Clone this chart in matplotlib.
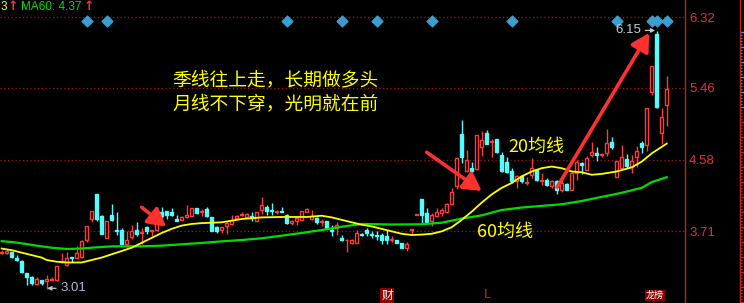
import matplotlib
matplotlib.use('Agg')
import matplotlib.pyplot as plt
import numpy as np
from matplotlib.transforms import blended_transform_factory
from matplotlib.lines import Line2D

plt.rcParams['font.family'] = ['Noto Sans CJK SC', 'DejaVu Sans']

# ---------------- data ----------------
opens = [3.44, 3.44, 3.46, 3.38, 3.35, 3.20, 3.15, 3.07, 3.12, 3.10,
         3.12, 3.12, 3.33, 3.30, 3.40, 3.39, 3.40, 3.60, 3.86, 4.17,
         3.90, 3.63, 3.91, 3.73, 3.73, 3.56, 3.64, 3.73, 3.69, 3.76,
         3.71, 3.73, 3.94, 3.96, 3.94, 3.86, 3.85, 3.89, 3.90, 4.00,
         3.95, 3.98, 3.88, 3.76, 3.73, 3.77, 3.80, 3.87, 3.91, 3.89,
         3.90, 3.83, 3.97, 4.01, 3.97, 3.95, 3.96, 3.91, 3.81, 3.84,
         3.85, 3.95, 3.86, 3.87, 3.82, 3.84, 3.73, 3.75, 3.63, 3.60,
         3.57, 3.57, 3.68, 3.73, 3.68, 3.67, 3.67, 3.65, 3.61, 3.61,
         3.57, 3.51, 3.73, 3.91, 4.11, 3.93, 3.83, 3.90, 3.93, 3.94,
         4.04, 4.26, 4.90, 4.44, 4.48, 4.47, 4.74, 4.91, 4.80, 4.83,
         4.64, 4.56, 4.44, 4.32, 4.39, 4.30, 4.40, 4.46, 4.32, 4.34,
         4.26, 4.32, 4.21, 4.29, 4.22, 4.42, 4.54, 4.46, 4.64, 4.66,
         4.64, 4.66, 4.80, 4.37, 4.48, 4.59, 4.50, 4.62, 4.79, 4.76,
         5.41, 6.12, 4.91, 5.25]
highs = [3.48, 3.49, 3.46, 3.42, 3.36, 3.20, 3.17, 3.15, 3.12, 3.18,
         3.15, 3.29, 3.45, 3.46, 3.40, 3.53, 3.60, 3.78, 3.96, 4.17,
         3.91, 3.84, 4.04, 3.94, 3.75, 3.71, 3.79, 3.82, 3.75, 3.78,
         3.73, 3.94, 4.01, 3.96, 3.99, 3.91, 3.90, 4.03, 4.00, 4.00,
         3.98, 4.01, 3.88, 3.78, 3.76, 3.83, 3.91, 3.91, 3.94, 3.93,
         3.95, 3.95, 4.13, 4.03, 4.06, 3.97, 4.01, 3.92, 3.85, 3.88,
         3.96, 4.00, 3.97, 3.88, 3.86, 3.84, 3.79, 3.82, 3.67, 3.62,
         3.62, 3.73, 3.69, 3.75, 3.72, 3.72, 3.69, 3.73, 3.65, 3.61,
         3.57, 3.58, 3.74, 3.92, 4.11, 4.00, 3.93, 4.00, 3.99, 4.06,
         4.24, 4.62, 5.07, 4.70, 4.55, 4.89, 4.93, 4.95, 4.84, 4.83,
         4.68, 4.62, 4.48, 4.40, 4.40, 4.37, 4.61, 4.47, 4.42, 4.36,
         4.34, 4.34, 4.38, 4.30, 4.43, 4.58, 4.56, 4.63, 4.80, 4.74,
         4.67, 4.96, 4.86, 4.57, 4.76, 4.65, 4.64, 4.75, 4.81, 5.21,
         5.73, 6.15, 5.22, 5.60]
lows = [3.43, 3.43, 3.39, 3.35, 3.20, 3.05, 3.05, 3.06, 3.06, 3.01,
        3.10, 3.11, 3.32, 3.29, 3.33, 3.38, 3.39, 3.58, 3.82, 3.83,
        3.68, 3.63, 3.83, 3.66, 3.56, 3.54, 3.62, 3.65, 3.56, 3.68,
        3.65, 3.72, 3.87, 3.86, 3.90, 3.84, 3.84, 3.87, 3.90, 3.92,
        3.90, 3.89, 3.71, 3.69, 3.69, 3.68, 3.79, 3.85, 3.90, 3.87,
        3.83, 3.83, 3.92, 3.91, 3.91, 3.92, 3.94, 3.80, 3.79, 3.79,
        3.85, 3.94, 3.85, 3.80, 3.78, 3.75, 3.65, 3.67, 3.59, 3.46,
        3.56, 3.57, 3.65, 3.65, 3.63, 3.60, 3.56, 3.56, 3.58, 3.57,
        3.51, 3.47, 3.67, 3.91, 3.81, 3.81, 3.78, 3.89, 3.90, 3.93,
        4.03, 4.23, 4.54, 4.43, 4.43, 4.46, 4.63, 4.78, 4.62, 4.67,
        4.43, 4.42, 4.30, 4.24, 4.30, 4.28, 4.36, 4.32, 4.28, 4.26,
        4.24, 4.17, 4.19, 4.21, 4.21, 4.34, 4.41, 4.46, 4.62, 4.57,
        4.62, 4.63, 4.71, 4.37, 4.46, 4.48, 4.42, 4.50, 4.67, 4.69,
        5.37, 5.22, 4.78, 4.99]
closes = [3.46, 3.47, 3.40, 3.36, 3.21, 3.15, 3.08, 3.13, 3.08, 3.13,
          3.13, 3.29, 3.35, 3.39, 3.38, 3.45, 3.59, 3.78, 3.96, 3.86,
          3.68, 3.84, 3.85, 3.72, 3.56, 3.61, 3.72, 3.68, 3.70, 3.71,
          3.73, 3.93, 3.90, 3.91, 3.91, 3.84, 3.89, 3.91, 3.99, 3.93,
          3.96, 3.90, 3.72, 3.71, 3.76, 3.81, 3.85, 3.90, 3.92, 3.92,
          3.87, 3.94, 4.03, 3.96, 3.96, 3.96, 3.95, 3.81, 3.84, 3.87,
          3.96, 3.98, 3.90, 3.82, 3.83, 3.75, 3.71, 3.79, 3.60, 3.61,
          3.61, 3.69, 3.67, 3.69, 3.66, 3.65, 3.61, 3.61, 3.62, 3.57,
          3.51, 3.55, 3.74, 3.92, 3.91, 3.82, 3.91, 3.94, 3.97, 4.04,
          4.19, 4.61, 4.62, 4.58, 4.45, 4.89, 4.82, 4.78, 4.81, 4.68,
          4.44, 4.43, 4.32, 4.38, 4.32, 4.31, 4.48, 4.34, 4.33, 4.28,
          4.32, 4.21, 4.30, 4.22, 4.42, 4.56, 4.52, 4.61, 4.68, 4.64,
          4.65, 4.79, 4.74, 4.57, 4.62, 4.51, 4.57, 4.69, 4.74, 5.21,
          5.73, 5.23, 5.10, 5.44]

ma20_idx = [0, 2, 4, 6, 8, 9, 11, 13, 16, 18,
            20, 22, 24, 26, 28, 30, 32, 34, 36, 38,
            40, 44, 48, 52, 56, 61, 64, 66, 68, 70,
            72, 74, 76, 78, 80, 82, 84, 86, 88, 90,
            92, 94, 96, 98, 100, 102, 104, 106, 108, 110,
            112, 114, 116, 118, 120, 123, 126, 128, 130, 131, 133]
ma20_val = [3.50, 3.48, 3.45, 3.42, 3.39, 3.36, 3.34, 3.33, 3.33, 3.36,
            3.39, 3.43, 3.47, 3.51, 3.57, 3.63, 3.69, 3.74, 3.78, 3.80,
            3.81, 3.82, 3.86, 3.88, 3.885, 3.885, 3.90, 3.88, 3.85, 3.82,
            3.79, 3.77, 3.74, 3.71, 3.68, 3.665, 3.67, 3.68, 3.71, 3.76,
            3.85, 3.95, 4.06, 4.16, 4.24, 4.30, 4.38, 4.44, 4.48, 4.50,
            4.48, 4.44, 4.43, 4.40, 4.41, 4.44, 4.49, 4.56, 4.66, 4.70, 4.78]

ma60_idx = [0, 2, 5, 7, 10, 13, 16, 19, 22, 28,
            32, 36, 40, 44, 48, 52, 56, 60, 64, 68,
            72, 78, 84, 88, 92, 96, 100, 104, 108, 112,
            116, 120, 124, 128, 130, 133]
ma60_val = [3.59, 3.58, 3.555, 3.535, 3.51, 3.495, 3.50, 3.515, 3.527, 3.527,
            3.535, 3.552, 3.568, 3.588, 3.604, 3.625, 3.657, 3.69, 3.726, 3.766,
            3.80, 3.793, 3.796, 3.815, 3.865, 3.905, 3.97, 4.00, 4.02, 4.04,
            4.08, 4.13, 4.18, 4.24, 4.31, 4.37]

signal_idx = [17, 21, 57, 68, 75, 86, 102, 123, 130, 131, 133]
price_levels = [6.32, 5.46, 4.58, 3.71]
price_labels = ['6.32', '5.46', '4.58', '3.71']
low_idx, low_price = 9, 3.01
high_idx, high_price = 131, 6.15

# ---------------- style ----------------
W, H = 744, 303
RED = '#ff3c3c'
CYAN = '#54fcfc'
GRID = '#a01818'
AXRED = '#c02020'

fig = plt.figure(figsize=(W / 100, H / 100), dpi=100, facecolor='black')
ax = fig.add_axes([0, 0, 685 / W, 1])
ax.set_facecolor('black')
ax.set_xlim(-0.34, 136.66)
ax.set_ylim(2.836, 6.531)

x = np.arange(len(opens))
o = np.array(opens); h = np.array(highs); l = np.array(lows); c = np.array(closes)
up = c >= o
cols = np.where(up, RED, CYAN)

# wicks
ax.vlines(x, l, h, colors=cols, linewidth=1, zorder=2)
# bodies
body_bottom = np.minimum(o, c)
body_h = np.maximum(np.abs(c - o), 0.006)
face = np.where(up, 'black', CYAN)
ax.bar(x, body_h, bottom=body_bottom, width=0.7, color=face,
       edgecolor=cols, linewidth=1, zorder=3)

# moving averages
ax.plot(ma60_idx, ma60_val, color='#00dc00', linewidth=1.6, zorder=4)
ax.plot(ma20_idx, ma20_val, color='#ffff00', linewidth=1.3, zorder=4)

# signal diamonds
tr = blended_transform_factory(ax.transData, ax.transAxes)
ax.scatter(signal_idx, [1 - 21.3 / H] * len(signal_idx), marker='D', s=30,
           color='#3a9fd0', transform=tr, zorder=6, clip_on=False)

# grid & right axis
ax.set_xticks([])
ax.set_yticks(price_levels)
ax.set_yticklabels(price_labels, fontfamily='Liberation Sans')
ax.yaxis.tick_right()
ax.tick_params(axis='y', length=0, pad=3, labelcolor='#e83030', labelsize=9.5)
ax.grid(axis='y', color=GRID, linestyle=(0, (1, 2)), linewidth=0.9)
for s in ['top', 'left', 'bottom']:
    ax.spines[s].set_visible(False)
ax.spines['right'].set_color(AXRED)
ax.spines['right'].set_linewidth(1)

# annotation texts
ax.text(34.1, 5.555, '季线往上走，长期做多头', color='#ffff00', fontsize=13.5,
        va='center', ha='left', zorder=7)
ax.text(34.1, 5.263, '月线不下穿，光明就在前', color='#ffff00', fontsize=13.5,
        va='center', ha='left', zorder=7)
ax.text(101.3, 4.744, '20均线', color='#ffff00', fontsize=13, va='center', ha='left', zorder=7)
ax.text(95.1, 3.702, '60均线', color='#ffff00', fontsize=13, va='center', ha='left', zorder=7)

# red arrows
arrow_kw = dict(arrowstyle='-|>,head_length=0.9,head_width=0.5', color='#ff3030',
                lw=2.6, shrinkA=0, shrinkB=0, mutation_scale=12)
ax.annotate('', xy=(32.9, 3.766), xytext=(28.0, 4.003), arrowprops=arrow_kw, zorder=8)
ax.annotate('', xy=(96.0, 4.202), xytext=(85.0, 4.674), arrowprops=arrow_kw, zorder=8)
ax.annotate('', xy=(129.5, 6.13), xytext=(111.1, 4.25), arrowprops=arrow_kw, zorder=8)

# high / low labels
lbl_kw = dict(arrowstyle='-|>', color='#c8c8c8', lw=0.9, mutation_scale=6,
              shrinkA=1, shrinkB=0)
ax.annotate(f'{high_price:.2f}', xy=(high_idx - 0.3, high_price + 0.01), xytext=(-14, 0),
            textcoords='offset pixels', ha='right', va='center', color='#c4cad6',
            fontsize=9.5, fontfamily='Liberation Sans', arrowprops=lbl_kw, zorder=9)
ax.annotate(f'{low_price:.2f}', xy=(low_idx + 0.1, low_price + 0.005), xytext=(13, 0),
            textcoords='offset pixels', ha='left', va='center', color='#b0bace',
            fontsize=9.5, fontfamily='Liberation Sans', arrowprops=lbl_kw, zorder=9)

# bottom markers
ybot = 1 - 295.5 / H
ax.text(77.1, ybot, '财', color='white', fontsize=8.5, ha='center', va='center',
        transform=tr, bbox=dict(boxstyle='square,pad=0.1', fc='#8b0000', ec='none'))
ax.text(97.1, ybot, 'L', color='#e02020', fontsize=9.5, ha='center', va='center',
        transform=tr, fontfamily='Liberation Sans')
ax.text(130.6, ybot, '龙榜', color='white', fontsize=6.5, ha='center', va='center',
        transform=tr, bbox=dict(boxstyle='square,pad=0.1', fc='#8b0000', ec='none'))

# header
fig.text(0.5 / W, 1 - 7 / H, '3', color='#ffff00', fontsize=8.5, va='center', ha='left',
         fontfamily='Liberation Sans')
fig.text(8 / W, 1 - 7 / H, '↑', color='#ff3030', fontsize=9, va='center', ha='left',
         fontfamily='DejaVu Sans', fontweight='bold')
fig.text(21 / W, 1 - 7 / H, 'MA60: 4.37', color='#00e000', fontsize=8.5, va='center',
         ha='left', fontfamily='Liberation Sans')
fig.text(84 / W, 1 - 7 / H, '↑', color='#ff3030', fontsize=9, va='center', ha='left',
         fontfamily='DejaVu Sans', fontweight='bold')

# right side ruler strip
fig.add_artist(Line2D([739.5 / W, 739.5 / W], [0, 1], color=AXRED, lw=1))
rx = fig.add_axes([740 / W, 0, 4 / W, 1])
rx.set_axis_off()
rx.set_xlim(0, 1)
rx.set_ylim(H, 0)
tick_y = np.arange(32, H, 3)
tick_len = np.where(tick_y % 15 == 2, 1.0, 0.6)
tick_col = np.where(tick_y < 110, '#2aa0d8', '#c02020')
rx.hlines(tick_y, 0, tick_len, colors=tick_col, lw=1)

fig.savefig('out.png', dpi=100, facecolor='black')
